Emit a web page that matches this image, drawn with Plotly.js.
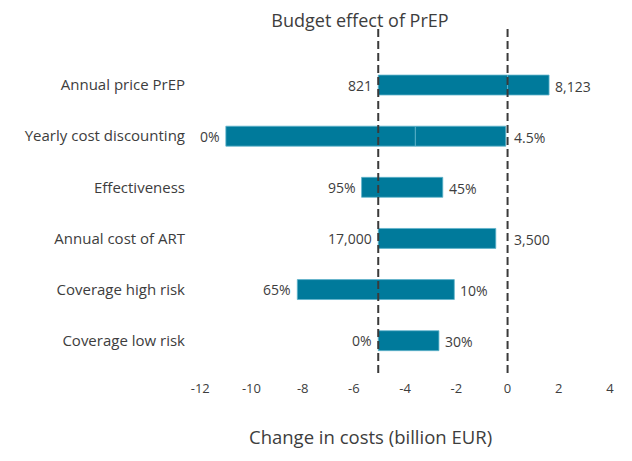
<!DOCTYPE html>
<html>
<head>
<meta charset="utf-8">
<script src="https://cdn.plot.ly/plotly-3.0.1.min.js"></script>
<style>html,body{margin:0;padding:0;background:#fff;}#chart{width:632px;height:461px;}</style>
</head>
<body>
<div id="chart"></div>
<script>
// ---- data ----
const categories = ["Annual price PrEP", "Yearly cost discounting", "Effectiveness", "Annual cost of ART", "Coverage high risk", "Coverage low risk"];
const barStart = [-5.05, -11.0, -5.70, -5.05, -8.21, -5.05];
const barEnd = [1.62, -0.07, -2.53, -0.46, -2.08, -2.68];
const barBreak = [0, -3.6, null, null, null, null];
const leftLabels = ["821", "0%", "95%", "17,000", "65%", "0%"];
const rightLabels = ["8,123", "4.5%", "45%", "3,500", "10%", "30%"];
const baseCase = -5.05;
const zeroLine = 0;
const xTicks = [-12, -10, -8, -6, -4, -2, 0, 2, 4];
const xTickText = ["-12", "-10", "-8", "-6", "-4", "-2", "0", "2", "4"];

// ---- style ----
const barColor = "#007a9b";
const edgeColor = "#5fb4cc";
const textColor = "#3d3d3d";
const font = "'Open Sans', 'Noto Sans', sans-serif";

const seg1End = barEnd.map((e, i) => barBreak[i] !== null ? barBreak[i] : e);
const trace1 = {
  type: "bar", orientation: "h", y: categories,
  base: barStart, x: seg1End.map((e, i) => e - barStart[i]),
  width: 0.39,
  marker: {color: barColor, line: {color: edgeColor, width: 0.8}},
  hoverinfo: "skip", showlegend: false
};
const trace2 = {
  type: "bar", orientation: "h", y: categories,
  base: barBreak.map(b => b === null ? 0 : b),
  x: barBreak.map((b, i) => b === null ? null : barEnd[i] - b),
  width: 0.39,
  marker: {color: barColor, line: {color: edgeColor, width: 0.8}},
  hoverinfo: "skip", showlegend: false
};

const annotations = [];
categories.forEach((c, i) => {
  annotations.push({x: barStart[i], y: c, xref: "x", yref: "y", text: leftLabels[i],
    showarrow: false, xanchor: "right", xshift: -4, font: {family: font, size: 14, color: textColor}});
  const re = (barEnd[i] < zeroLine && barEnd[i] > zeroLine - 0.6) ? zeroLine : barEnd[i];
  annotations.push({x: re, y: c, xref: "x", yref: "y", text: rightLabels[i],
    showarrow: false, xanchor: "left", xshift: 4, yshift: -1, font: {family: font, size: 14, color: textColor}});
});
annotations.push({xref: "paper", yref: "paper", x: (370 - 190) / 430, y: -(437 - 373) / 344,
  text: "Change in costs (billion EUR)", showarrow: false, xanchor: "center", yanchor: "middle",
  font: {family: font, size: 18.5, color: textColor}});

const shapes = [baseCase, zeroLine].map(v => ({
  type: "line", xref: "x", yref: "paper", x0: v, x1: v, y0: 0, y1: 1,
  line: {color: "#3a3a3a", width: 2, dash: "8px,4px"}, layer: "above"
}));

const layout = {
  width: 632, height: 461,
  margin: {l: 190, r: 12, t: 29, b: 88},
  paper_bgcolor: "#ffffff", plot_bgcolor: "#ffffff",
  barmode: "overlay",
  font: {family: font, color: textColor, size: 14},
  title: {text: "Budget effect of PrEP", xref: "container", yref: "container",
    x: 360 / 632, y: 1 - 21 / 461, xanchor: "center", yanchor: "middle",
    font: {family: font, size: 18, color: textColor}},
  xaxis: {range: [-12.4, 4.39], tickvals: xTicks, ticktext: xTickText, showgrid: false,
    zeroline: false, showline: false, ticks: "", tickfont: {size: 13, color: textColor},
    ticklabelstandoff: 6},
  yaxis: {type: "category", categoryarray: categories, range: [5.632, -1.096],
    showgrid: false, zeroline: false, showline: false, ticks: "",
    tickfont: {size: 15, color: textColor}, ticklabelstandoff: 4},
  shapes: shapes,
  annotations: annotations
};

Plotly.newPlot("chart", [trace1, trace2], layout, {displayModeBar: false, staticPlot: true});
</script>
</body>
</html>
